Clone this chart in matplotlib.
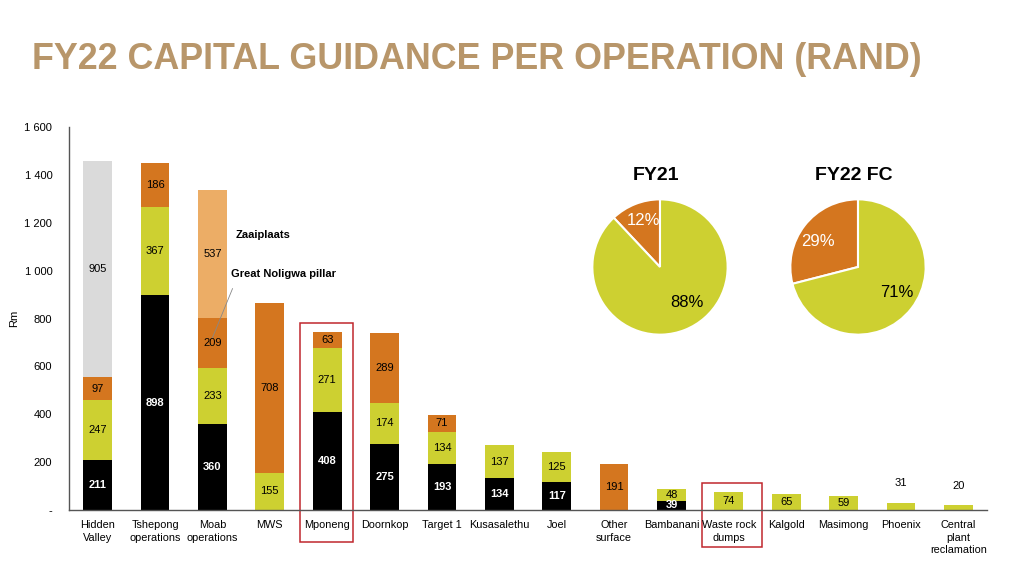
import matplotlib.pyplot as plt
from matplotlib.patches import Rectangle

operations = ["Hidden\nValley", "Tshepong\noperations", "Moab\noperations", "MWS", "Mponeng",
              "Doornkop", "Target 1", "Kusasalethu", "Joel", "Other\nsurface", "Bambanani",
              "Waste rock\ndumps", "Kalgold", "Masimong", "Phoenix", "Central\nplant\nreclamation"]
black_part = [211, 898, 360, 0, 408, 275, 193, 134, 117, 0, 39, 0, 0, 0, 0, 0]
green_part = [247, 367, 233, 155, 271, 174, 134, 137, 125, 0, 48, 74, 65, 59, 31, 20]
orange_part = [97, 186, 209, 708, 63, 289, 71, 0, 0, 191, 0, 0, 0, 0, 0, 0]
grey_part = [905, 0, 0, 0, 0, 0, 0, 0, 0, 0, 0, 0, 0, 0, 0, 0]
light_orange_part = [0, 0, 537, 0, 0, 0, 0, 0, 0, 0, 0, 0, 0, 0, 0, 0]

y_ticks = [0, 200, 400, 600, 800, 1000, 1200, 1400, 1600]
y_tick_labels = ["-", "200", "400", "600", "800", "1 000", "1 200", "1 400", "1 600"]

pie_titles = ["FY21", "FY22 FC"]
pie_orange = [12, 29]
pie_green = [88, 71]

BLACK = "#000000"
GREEN = "#CDD031"
ORANGE = "#D4761F"
GREY = "#DADADA"
LORANGE = "#ECAD66"
GOLD = "#B8966A"

plt.rcParams['font.family'] = ['Liberation Sans', 'DejaVu Sans']

fig = plt.figure(figsize=(10.22, 5.75), dpi=100)
fig.text(0.031, 0.88, "FY22 CAPITAL GUIDANCE PER OPERATION (RAND)", color=GOLD,
         fontsize=25.8, fontweight='bold', va='baseline')

ax = fig.add_axes([0.0675, 0.113, 0.8983, 0.666])
x = list(range(len(operations)))
w = 0.5
layers = [(black_part, BLACK, "white"), (green_part, GREEN, "black"),
          (orange_part, ORANGE, "black"), (grey_part, GREY, "black"),
          (light_orange_part, LORANGE, "black")]
bottom = [0] * len(x)
for vals, col, tcol in layers:
    ax.bar(x, vals, w, bottom=bottom, color=col, linewidth=0)
    for i, v in enumerate(vals):
        if v <= 0:
            continue
        if v < 35:
            ax.text(i, bottom[i] + v + 60, str(v), ha='center', va='bottom', fontsize=8, color="black")
        else:
            ax.text(i, bottom[i] + v / 2, str(v), ha='center', va='center', fontsize=8,
                    color=tcol, fontweight='bold' if tcol == "white" else 'normal')
    bottom = [b + v for b, v in zip(bottom, vals)]

ax.set_xlim(-0.5, 15.5)
ax.set_ylim(0, 1600)
ax.set_yticks(y_ticks)
ax.set_yticklabels(y_tick_labels, fontsize=8)
ax.set_xticks(x)
ax.set_xticklabels(operations, fontsize=7.8, linespacing=1.35)
ax.tick_params(length=0, pad=7)
ax.tick_params(axis='y', pad=12)
ax.set_ylabel("Rm", fontsize=8, labelpad=4)
for s in ["top", "right"]:
    ax.spines[s].set_visible(False)
for s in ["left", "bottom"]:
    ax.spines[s].set_color("#555555")
    ax.spines[s].set_linewidth(1)

ax.text(2.4, 1150, "Zaaiplaats", fontsize=8, fontweight='bold', va='center')
ax.text(2.33, 985, "Great Noligwa pillar", fontsize=8, fontweight='bold', va='center')
ax.plot([2.35, 2.0], [925, 720], color="#888888", lw=0.6)

ax.add_patch(Rectangle((3.52, -135), 0.93, 915, fill=False, edgecolor="#C0272D", lw=1.1, clip_on=False))
ax.add_patch(Rectangle((10.53, -155), 1.05, 270, fill=False, edgecolor="#C0272D", lw=1.1, clip_on=False))

pie_centers = [660, 858]
label_pos = [[(-0.25, 0.69), (0.4, -0.53)], [(-0.59, 0.38), (0.57, -0.37)]]
for k in range(2):
    cx = pie_centers[k]
    pax = fig.add_axes([(cx - 69) / 1022, (575 - 336) / 575, 138 / 1022, 138 / 575])
    pax.pie([pie_orange[k], pie_green[k]], colors=[ORANGE, GREEN], startangle=90,
            counterclock=True, wedgeprops=dict(edgecolor="white", linewidth=1.5))
    pax.set_xlim(-1.02, 1.02)
    pax.set_ylim(-1.02, 1.02)
    pcts = [pie_orange[k], pie_green[k]]
    for j in range(2):
        pax.text(label_pos[k][j][0], label_pos[k][j][1], f"{pcts[j]}%", ha='center', va='center',
                 fontsize=12, color="white" if j == 0 else "black")
    pax.set_aspect('equal')
    fig.text(cx / 1022 - 0.004, (575 - 175) / 575, pie_titles[k], ha='center', va='center',
             fontsize=14, fontweight='bold')

fig.savefig("out.png", dpi=100)
